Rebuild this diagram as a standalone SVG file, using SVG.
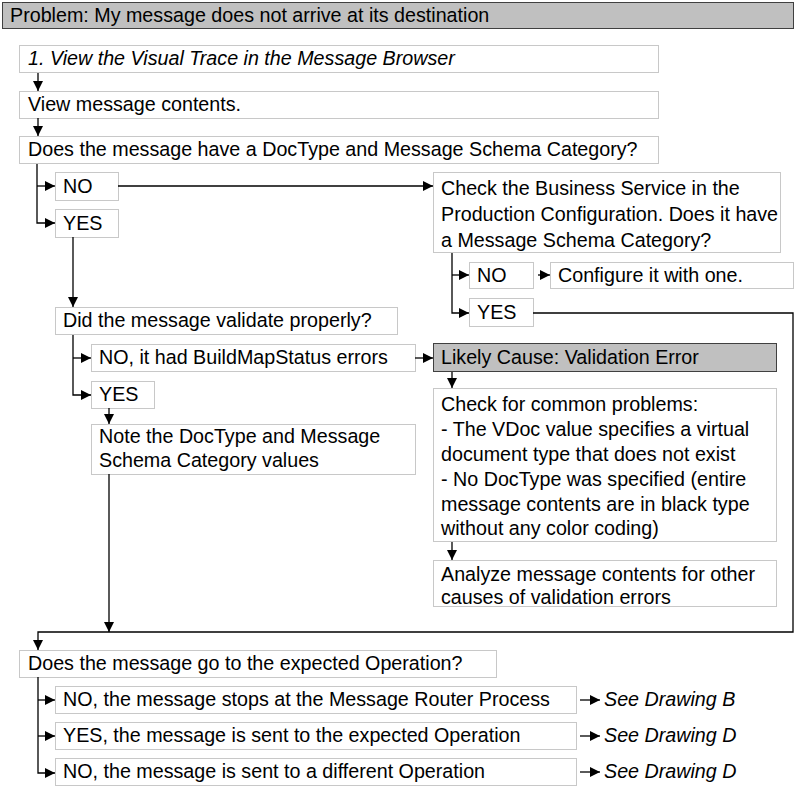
<svg xmlns="http://www.w3.org/2000/svg" width="795" height="787" viewBox="0 0 795 787">
<style>
text{font-family:"Liberation Sans",Arial,sans-serif;font-size:19.7px;fill:#000}
.i{font-style:italic}
.b{fill:#fff;stroke:#c8c8c8;stroke-width:1}
.g{fill:#c0c0c0;stroke:#404040;stroke-width:1}
.c path,.c polyline,.c line{fill:none;stroke:#000;stroke-width:1.3}
</style>
<defs>
<marker id="a" markerUnits="userSpaceOnUse" markerWidth="10" markerHeight="10" refX="10" refY="5" orient="auto">
<path d="M0,0 L10,5 L0,10 z" fill="#000"/>
</marker>
</defs>
<rect width="795" height="787" fill="#fff"/>
<g id="n-title"><rect class="g" x="2.5" y="2.5" width="791" height="26"/><text x="10" y="22">Problem: My message does not arrive at its destination</text></g>
<g id="n-step1"><rect class="b" x="19.5" y="45.5" width="639" height="27"/><text class="i" x="28" y="65">1. View the Visual Trace in the Message Browser</text></g>
<g id="n-view"><rect class="b" x="19.5" y="91.5" width="639" height="27"/><text x="28" y="111">View message contents.</text></g>
<g id="n-doctype"><rect class="b" x="19.5" y="136.5" width="639" height="27"/><text x="28" y="156">Does the message have a DocType and Message Schema Category?</text></g>
<g id="n-no1"><rect class="b" x="55.5" y="172.5" width="63" height="28"/><text x="63" y="193">NO</text></g>
<g id="n-yes1"><rect class="b" x="55.5" y="209.5" width="63" height="28"/><text x="63" y="230">YES</text></g>
<g id="n-check"><rect class="b" x="433.5" y="172.5" width="347" height="80"/><text x="441" y="195">Check the Business Service in the</text><text x="441" y="221">Production Configuration. Does it have</text><text x="441" y="247">a Message Schema Category?</text></g>
<g id="n-no2"><rect class="b" x="469.5" y="262.5" width="64" height="26"/><text x="477" y="282">NO</text></g>
<g id="n-configure"><rect class="b" x="550.5" y="262.5" width="243" height="26"/><text x="558" y="282">Configure it with one.</text></g>
<g id="n-yes2"><rect class="b" x="469.5" y="298.5" width="64" height="28"/><text x="477" y="319">YES</text></g>
<g id="n-validate"><rect class="b" x="55.5" y="307.5" width="342" height="27"/><text x="63" y="327">Did the message validate properly?</text></g>
<g id="n-no3"><rect class="b" x="91.5" y="344.5" width="324" height="27"/><text x="99" y="364">NO, it had BuildMapStatus errors</text></g>
<g id="n-yes3"><rect class="b" x="91.5" y="381.5" width="63" height="27"/><text x="99" y="401">YES</text></g>
<g id="n-note"><rect class="b" x="91.5" y="424.5" width="324" height="50"/><text x="99" y="443">Note the DocType and Message</text><text x="99" y="467">Schema Category values</text></g>
<g id="n-likely"><rect class="g" x="433.5" y="343.5" width="343" height="28"/><text x="441" y="364">Likely Cause: Validation Error</text></g>
<g id="n-common"><rect class="b" x="433.5" y="388.5" width="343" height="153"/><text x="441" y="411">Check for common problems:</text><text x="441" y="436">- The VDoc value specifies a virtual</text><text x="441" y="461">document type that does not exist</text><text x="441" y="486">- No DocType was specified (entire</text><text x="441" y="511">message contents are in black type</text><text x="441" y="535">without any color coding)</text></g>
<g id="n-analyze"><rect class="b" x="433.5" y="560.5" width="343" height="46"/><text x="441" y="581">Analyze message contents for other</text><text x="441" y="604">causes of validation errors</text></g>
<g id="n-operation"><rect class="b" x="19.5" y="650.5" width="477" height="27"/><text x="28" y="670">Does the message go to the expected Operation?</text></g>
<g id="n-op1"><rect class="b" x="55.5" y="686.5" width="521" height="27"/><text x="63" y="706">NO, the message stops at the Message Router Process</text></g>
<g id="n-op2"><rect class="b" x="55.5" y="722.5" width="521" height="27"/><text x="63" y="742">YES, the message is sent to the expected Operation</text></g>
<g id="n-op3"><rect class="b" x="55.5" y="758.5" width="521" height="27"/><text x="63" y="778">NO, the message is sent to a different Operation</text></g>
<g id="n-seeB"><text class="i" x="604" y="706">See Drawing B</text></g>
<g id="n-seeD1"><text class="i" x="604" y="742">See Drawing D</text></g>
<g id="n-seeD2"><text class="i" x="604" y="778">See Drawing D</text></g>
<g id="connectors" class="c">
<line x1="38" y1="73" x2="38" y2="91" marker-end="url(#a)"/>
<line x1="38" y1="118" x2="38" y2="136" marker-end="url(#a)"/>
<polyline points="37,164 37,223 55,223" marker-end="url(#a)"/>
<line x1="37" y1="186" x2="55" y2="186" marker-end="url(#a)"/>
<line x1="118" y1="186" x2="433" y2="186" marker-end="url(#a)"/>
<line x1="73" y1="237" x2="73" y2="307" marker-end="url(#a)"/>
<polyline points="452,253 452,313 469,313" marker-end="url(#a)"/>
<line x1="452" y1="275" x2="469" y2="275" marker-end="url(#a)"/>
<line x1="538" y1="275" x2="550" y2="275" marker-end="url(#a)"/>
<polyline points="533,313 793,313 793,632 38,632 38,650" marker-end="url(#a)"/>
<polyline points="73,335 73,395 91,395" marker-end="url(#a)"/>
<line x1="73" y1="358" x2="91" y2="358" marker-end="url(#a)"/>
<line x1="415" y1="358" x2="433" y2="358" marker-end="url(#a)"/>
<line x1="109" y1="408" x2="109" y2="424" marker-end="url(#a)"/>
<line x1="109" y1="474" x2="109" y2="632" marker-end="url(#a)"/>
<line x1="452" y1="372" x2="452" y2="388" marker-end="url(#a)"/>
<line x1="452" y1="542" x2="452" y2="560" marker-end="url(#a)"/>
<polyline points="38,677 38,773 55,773" marker-end="url(#a)"/>
<line x1="38" y1="700" x2="55" y2="700" marker-end="url(#a)"/>
<line x1="38" y1="736" x2="55" y2="736" marker-end="url(#a)"/>
<line x1="580" y1="700" x2="600" y2="700" marker-end="url(#a)"/>
<line x1="580" y1="736" x2="600" y2="736" marker-end="url(#a)"/>
<line x1="580" y1="772" x2="600" y2="772" marker-end="url(#a)"/>
</g>
</svg>
